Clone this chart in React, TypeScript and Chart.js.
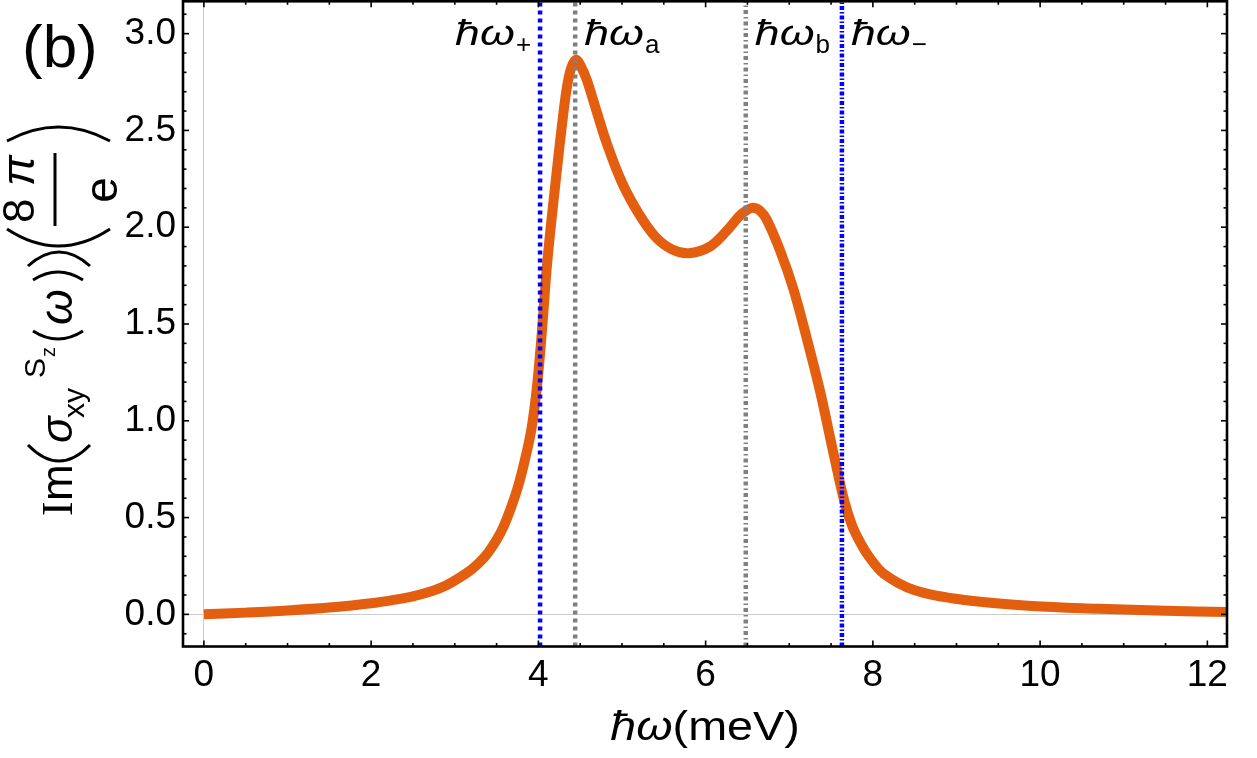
import React, { useEffect, useRef } from 'react';
import { Chart, registerables } from 'chart.js';

Chart.register(...registerables);

// photon energy (meV) and Im(sigma_xy^Sz)
const energy = [
  0, 0.5, 1, 1.5, 2, 2.34, 2.5, 2.74, 2.9, 3.06, 3.2, 3.3, 3.4, 3.5, 3.58, 3.68, 3.76, 3.84,
  3.91, 3.96, 4.0, 4.04, 4.07, 4.1, 4.15, 4.22, 4.28, 4.34, 4.39, 4.45, 4.51, 4.58, 4.66, 4.82,
  5.0, 5.2, 5.4, 5.6, 5.8, 6.05, 6.25, 6.41, 6.5, 6.57, 6.65, 6.73, 6.89, 7.05, 7.21, 7.37, 7.53,
  7.65, 7.75, 7.85, 7.95, 8.13, 8.5, 9.1, 9.9, 10.7, 11.5, 12.24,
];
const imSigma = [
  0.0, 0.009, 0.02, 0.035, 0.057, 0.08, 0.093, 0.122, 0.15, 0.19, 0.232, 0.27, 0.32, 0.385,
  0.45, 0.56, 0.665, 0.8, 0.94, 1.09, 1.25, 1.45, 1.62, 1.79, 2.01, 2.29, 2.52, 2.72, 2.82,
  2.865, 2.83, 2.76, 2.65, 2.43, 2.23, 2.07, 1.95, 1.885, 1.866, 1.9, 1.98, 2.06, 2.09, 2.1,
  2.085, 2.04, 1.88, 1.68, 1.425, 1.15, 0.83, 0.6, 0.46, 0.37, 0.3, 0.21, 0.125, 0.074, 0.043,
  0.029, 0.019, 0.012,
];

// resonance markers
const markerSubs = ['+', 'a', 'b', '\u2212'];
const markerPos = [4.02, 4.44, 6.48, 7.63];
const markerColors = ['#0000ff', '#808080', '#808080', '#0000ff'];
const markerDash = [[4, 4], [4, 4], [4, 3, 1.5, 3], [4, 2, 1.5, 2]];
const markerLabelLeft = [true, false, false, false];

const xTicks = [0, 2, 4, 6, 8, 10, 12];
const yTicks = [0, 0.5, 1, 1.5, 2, 2.5, 3];
const xMarks = Array.from({ length: 25 }, (_, i) => i * 0.5);
const yMarks = Array.from({ length: 33 }, (_, i) => Math.round((i - 1) * 10) / 100);

const X_MIN = -0.25;
const X_MAX = 12.235;
const Y_MIN = -0.166;
const Y_MAX = 3.167;

const SANS = "'Liberation Sans', Arial, sans-serif";
const ORANGE = '#e45e10';

const decorations = {
  id: 'decorations',
  afterDraw(chart: any) {
    const { ctx, chartArea: a, scales } = chart;
    const xs = scales.x;
    const ys = scales.y;
    ctx.save();

    // frame
    ctx.strokeStyle = '#000';
    ctx.lineWidth = 2.6;
    ctx.strokeRect(a.left, a.top, a.right - a.left, a.bottom - a.top);

    // inward ticks on all four sides
    const seg = (x1: number, y1: number, x2: number, y2: number) => {
      ctx.beginPath();
      ctx.moveTo(x1, y1);
      ctx.lineTo(x2, y2);
      ctx.stroke();
    };
    ctx.lineWidth = 1.6;
    xMarks.forEach((v) => {
      const px = xs.getPixelForValue(v);
      const len = xTicks.includes(v) ? 6 : 3.5;
      seg(px, a.bottom, px, a.bottom - len);
      seg(px, a.top, px, a.top + len);
    });
    yMarks.forEach((v) => {
      const py = ys.getPixelForValue(v);
      const len = yTicks.some((t) => Math.abs(t - v) < 1e-6) ? 6 : 3.5;
      seg(a.left, py, a.left + len, py);
      seg(a.right, py, a.right - len, py);
    });

    ctx.fillStyle = '#000';
    ctx.textBaseline = 'alphabetic';
    ctx.textAlign = 'left';

    // wide text, stretched horizontally like the original typesetting
    const wide = (s: string, x: number, y: number, font: string, k: number) => {
      ctx.font = font;
      ctx.save();
      ctx.translate(x, y);
      ctx.scale(k, 1);
      ctx.fillText(s, 0, 0);
      ctx.restore();
      return ctx.measureText(s).width * k;
    };
    const widthOf = (s: string, font: string, k: number) => {
      ctx.font = font;
      return ctx.measureText(s).width * k;
    };

    // panel tag
    wide('(b)', 22, 67, `59px ${SANS}`, 1.05);

    // marker labels
    const mainFont = `italic 35px ${SANS}`;
    const subFont = `26px ${SANS}`;
    markerPos.forEach((v, i) => {
      const px = xs.getPixelForValue(v);
      const mainW = widthOf('\u0127\u03c9', mainFont, 1.28);
      const subW = widthOf(markerSubs[i], subFont, 1);
      const x0 = markerLabelLeft[i] ? px - 9 - mainW - subW - 1 : px + 9;
      wide('\u0127\u03c9', x0, 45, mainFont, 1.28);
      wide(markerSubs[i], x0 + mainW + 1, 53, subFont, 1);
    });

    // x axis title
    const tI = `italic 41px ${SANS}`;
    const tR = `41px ${SANS}`;
    const k = 1.14;
    const w1 = widthOf('\u0127\u03c9', tI, k);
    const w2 = widthOf('(meV)', tR, k);
    const sx = (a.left + a.right) / 2 - (w1 + w2) / 2;
    wide('\u0127\u03c9', sx, 740, tI, k);
    wide('(meV)', sx + w1, 740, tR, k);

    // y axis title, rotated
    ctx.translate(72, 517);
    ctx.rotate(-Math.PI / 2);
    const txt = (s: string, lx: number, ly: number, font: string) => {
      ctx.font = font;
      ctx.fillText(s, lx, ly);
    };
    const paren = (endX: number, apexX: number, top: number, bottom: number) => {
      ctx.beginPath();
      ctx.moveTo(endX, top);
      ctx.quadraticCurveTo(2 * apexX - endX, (top + bottom) / 2, endX, bottom);
      ctx.stroke();
    };
    ctx.lineWidth = 3;
    txt('I', 1, 0, `44px 'Liberation Serif', serif`);
    txt('m', 16, 0, `44px ${SANS}`);
    paren(72, 56, -44, 18);
    txt('\u03c3', 74, 0, `italic 44px ${SANS}`);
    txt('xy', 99, 12, `30px ${SANS}`);
    txt('S', 139, -27, `30px ${SANS}`);
    txt('z', 160, -17, `20px ${SANS}`);
    paren(186, 178, -39, 11);
    txt('\u03c9', 192, 0, `italic 46px ${SANS}`);
    paren(237, 245, -39, 11);
    paren(251, 265, -44, 18);
    paren(288, 271, -65, 38);
    seg(291, -17, 364, -17);
    txt('8', 294, -38, `44px ${SANS}`);
    txt('\u03c0', 331, -38, `italic 46px ${SANS}`);
    ctx.textAlign = 'center';
    txt('e', 327, 45, `46px ${SANS}`);
    paren(376, 390, -65, 38);

    ctx.restore();
  },
};

export default function App() {
  const canvasRef = useRef<HTMLCanvasElement>(null);

  useEffect(() => {
    const canvas = canvasRef.current;
    if (!canvas) return;

    const markerSets = markerPos.map((v, i) => ({
      data: [
        { x: v, y: Y_MIN },
        { x: v, y: Y_MAX },
      ],
      borderColor: markerColors[i],
      borderWidth: 4.5,
      borderDash: markerDash[i],
      borderCapStyle: 'butt',
      pointRadius: 0,
      fill: false,
    }));

    const chart = new Chart(canvas, {
      type: 'line',
      data: {
        datasets: [
          ...markerSets,
          {
            data: energy.map((x, i) => ({ x, y: imSigma[i] })),
            borderColor: ORANGE,
            borderWidth: 10,
            borderJoinStyle: 'round',
            tension: 0.35,
            pointRadius: 0,
            fill: false,
          },
        ],
      } as any,
      options: {
        responsive: false,
        animation: false,
        devicePixelRatio: 1,
        layout: { padding: { top: 1.3, right: 30, left: 0, bottom: 0 } },
        plugins: { legend: { display: false }, tooltip: { enabled: false } },
        scales: {
          x: {
            type: 'linear',
            min: X_MIN,
            max: X_MAX,
            afterBuildTicks: (s: any) => {
              s.ticks = xTicks.map((value) => ({ value }));
            },
            afterFit: (s: any) => {
              s.height = 758 - 646.5;
              s.paddingLeft = 0;
              s.paddingRight = 0;
            },
            border: { display: false },
            grid: {
              drawTicks: false,
              lineWidth: 1,
              color: (c: any) => (c.tick && c.tick.value === 0 ? '#cccccc' : 'rgba(0,0,0,0)'),
            },
            ticks: {
              padding: 7,
              maxRotation: 0,
              autoSkip: false,
              color: '#000',
              font: { family: SANS, size: 37 },
              callback: (v: any) => String(v),
            },
          },
          y: {
            type: 'linear',
            min: Y_MIN,
            max: Y_MAX,
            afterBuildTicks: (s: any) => {
              s.ticks = yTicks.map((value) => ({ value }));
            },
            afterFit: (s: any) => {
              s.width = 183;
              s.paddingTop = 0;
              s.paddingBottom = 0;
            },
            border: { display: false },
            grid: {
              drawTicks: false,
              lineWidth: 1,
              color: (c: any) => (c.tick && c.tick.value === 0 ? '#cccccc' : 'rgba(0,0,0,0)'),
            },
            ticks: {
              padding: 7,
              autoSkip: false,
              color: '#000',
              font: { family: SANS, size: 37 },
              callback: (v: any) => Number(v).toFixed(1),
            },
          },
        },
      } as any,
      plugins: [decorations],
    });

    return () => {
      chart.destroy();
    };
  }, []);

  return (
    <div style={{ position: 'absolute', left: 0, top: 0, width: 1257, height: 758, background: '#fff' }}>
      <canvas ref={canvasRef} width={1257} height={758} style={{ display: 'block' }} />
    </div>
  );
}
